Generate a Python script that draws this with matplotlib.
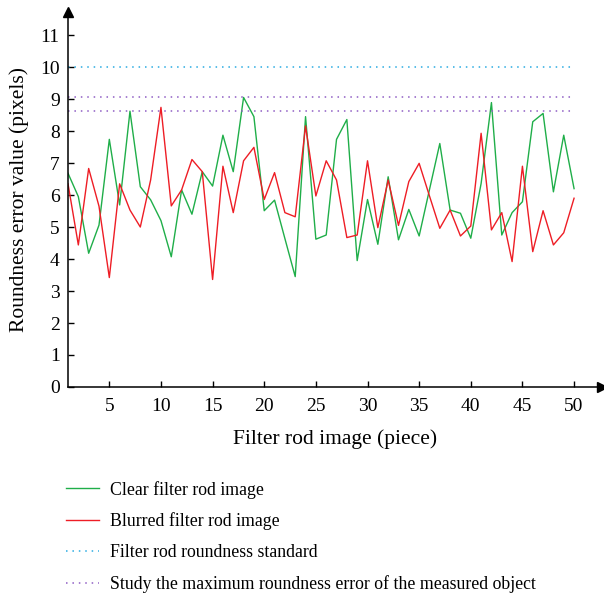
import numpy as np
import matplotlib
matplotlib.use('Agg')
import matplotlib.pyplot as plt

plt.rcParams['font.family'] = ['Liberation Serif', 'DejaVu Serif']

# image index 1..50
piece = np.arange(1, 51)

clear = [6.68, 5.95, 4.18, 5.06, 7.74, 5.69, 8.62, 6.26, 5.85, 5.2,
         4.07, 6.16, 5.4, 6.73, 6.28, 7.87, 6.73, 9.05, 8.45, 5.51,
         5.84, 4.64, 3.45, 8.45, 4.62, 4.75, 7.74, 8.36, 3.95, 5.86,
         4.46, 6.57, 4.6, 5.55, 4.72, 6.17, 7.61, 5.53, 5.43, 4.65,
         6.36, 8.89, 4.75, 5.45, 5.79, 8.29, 8.55, 6.1, 7.87, 6.2]

blurred = [6.35, 4.44, 6.83, 5.65, 3.42, 6.35, 5.53, 5.0, 6.47, 8.74,
           5.66, 6.16, 7.11, 6.73, 3.36, 6.9, 5.45, 7.07, 7.49, 5.86,
           6.7, 5.45, 5.32, 8.16, 5.97, 7.07, 6.47, 4.67, 4.75, 7.07,
           4.98, 6.47, 5.05, 6.42, 6.99, 5.97, 4.96, 5.53, 4.72, 5.03,
           7.93, 4.91, 5.45, 3.92, 6.9, 4.23, 5.51, 4.44, 4.82, 5.9]

standard = 10.0
max_err = [9.07, 8.63]

labels = ['Clear filter rod image', 'Blurred filter rod image',
          'Filter rod roundness standard',
          'Study the maximum roundness error of the measured object']

fig = plt.figure(figsize=(6.04, 5.95), dpi=100)
ax = fig.add_axes([0.1126, 0.3496, 0.884, 0.6302])

l1, = ax.plot(piece, clear, color='#1fae49', lw=1.0)
l2, = ax.plot(piece, blurred, color='#ee1d25', lw=1.0)
l3, = ax.plot([piece[0], piece[-1]], [standard, standard], color='#29abe2',
              lw=1.1, ls=(0, (1, 3.2)))
for v in max_err:
    l4, = ax.plot([piece[0], piece[-1]], [v, v], color='#8e5cc4',
                  lw=1.1, ls=(0, (1, 3.2)))

ax.set_xlim(1, 52.7)
ax.set_ylim(0, 11.72)
ax.set_xticks(np.arange(5, 51, 5))
ax.set_yticks(np.arange(0, 12, 1))
ax.tick_params(direction='in', length=4, width=1, labelsize=14, color='black')
ax.tick_params(axis='x', pad=8)
ax.tick_params(axis='y', pad=6)

for s in ['top', 'right']:
    ax.spines[s].set_visible(False)
for s in ['left', 'bottom']:
    ax.spines[s].set_linewidth(1.1)

# arrow heads on the axes
ax.plot(0, 1, marker='^', color='black', markersize=7, transform=ax.transAxes, clip_on=False)
ax.plot(1, 0, marker='>', color='black', markersize=7, transform=ax.transAxes, clip_on=False)

ax.set_xlabel('Filter rod image (piece)', fontsize=15.5, labelpad=10)
ax.set_ylabel('Roundness error value (pixels)', fontsize=15.5, labelpad=8)

fig.legend([l1, l2, l3, l4], labels, loc='upper left',
           bbox_to_anchor=(0.083, 0.219), frameon=False, fontsize=12.8,
           handlelength=1.85, handletextpad=0.6, labelspacing=0.78)

plt.savefig('out.png', dpi=100)
